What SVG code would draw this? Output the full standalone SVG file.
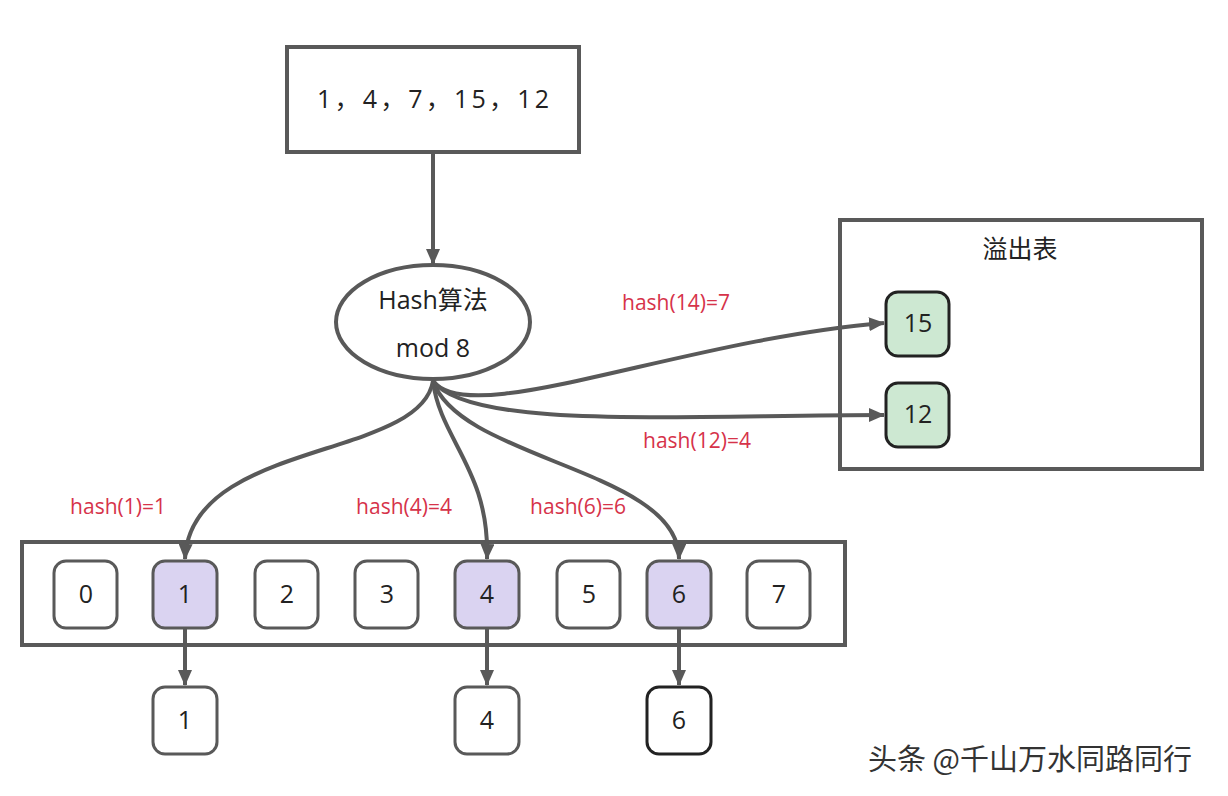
<svg xmlns="http://www.w3.org/2000/svg" width="1228" height="796" viewBox="0 0 1228 796">
<defs>
<marker id="ah" markerWidth="16" markerHeight="14" refX="15" refY="7" orient="auto" markerUnits="userSpaceOnUse"><path d="M0,0 L16,7 L0,14 z" fill="#595959"/></marker>
<style>
.box{fill:#fff;stroke:#595959;stroke-width:4}
.cell{fill:#fff;stroke:#595959;stroke-width:3}
.hl{fill:#dad3f1;stroke:#595959;stroke-width:3}
.gr{fill:#cde8d2;stroke:#222;stroke-width:3}
.t{font-family:"Open Sans","Noto Sans CJK SC",sans-serif;font-size:25px;fill:#222;text-anchor:middle}
.r{font-family:"Open Sans",sans-serif;font-size:21px;fill:#d6334a;text-anchor:middle}
.c{fill:none;stroke:#595959;stroke-width:4;marker-end:url(#ah)}
</style>
</defs>
<rect width="1228" height="796" fill="#fff"/>
<g id="input"><rect class="box" x="287" y="47" width="292" height="105"/><text class="t" x="433" y="108" textLength="232">1，4，7，15，12</text></g>
<g id="hash"><ellipse class="box" cx="433" cy="322" rx="97" ry="57"/><text class="t" x="433" y="309">Hash算法</text><text class="t" x="433" y="357">mod 8</text></g>
<g id="overflow"><rect class="box" x="840" y="220" width="362" height="249"/><text class="t" x="1020" y="258">溢出表</text>
<rect class="gr" x="886" y="292" width="63" height="64" rx="12"/><text class="t" x="918" y="332">15</text>
<rect class="gr" x="886" y="383" width="63" height="64" rx="12"/><text class="t" x="918" y="423">12</text></g>
<g id="array"><rect class="box" x="22" y="542" width="823" height="103"/>
<rect class="cell" x="54" y="561" width="63" height="67" rx="12"/><text class="t" x="86" y="603">0</text>
<rect class="hl" x="153" y="561" width="64" height="67" rx="12"/><text class="t" x="185" y="603">1</text>
<rect class="cell" x="255" y="561" width="63" height="67" rx="12"/><text class="t" x="287" y="603">2</text>
<rect class="cell" x="355" y="561" width="63" height="67" rx="12"/><text class="t" x="387" y="603">3</text>
<rect class="hl" x="455" y="561" width="64" height="67" rx="12"/><text class="t" x="487" y="603">4</text>
<rect class="cell" x="557" y="561" width="63" height="67" rx="12"/><text class="t" x="589" y="603">5</text>
<rect class="hl" x="647" y="561" width="64" height="67" rx="12"/><text class="t" x="679" y="603">6</text>
<rect class="cell" x="747" y="561" width="63" height="67" rx="12"/><text class="t" x="779" y="603">7</text></g>
<g id="chain1"><rect class="cell" x="153" y="687" width="64" height="67" rx="12"/><text class="t" x="185" y="729">1</text></g>
<g id="chain4"><rect class="cell" x="455" y="687" width="64" height="67" rx="12"/><text class="t" x="487" y="729">4</text></g>
<g id="chain6"><rect class="cell" x="647" y="687" width="64" height="67" rx="12" style="stroke:#222"/><text class="t" x="679" y="729">6</text></g>
<g id="connectors">
<path class="c" d="M433,152 V264"/>
<path class="c" d="M433,381 C420,460 190,440 185,559"/>
<path class="c" d="M433,381 C440,440 490,470 487,559"/>
<path class="c" d="M433,381 C460,460 680,470 679,559"/>
<path class="c" d="M433,381 C470,430 680,340 884,323"/>
<path class="c" d="M433,381 C470,430 680,415 884,415"/>
<path class="c" d="M185,628 V685"/>
<path class="c" d="M487,628 V685"/>
<path class="c" d="M679,628 V685"/>
</g>
<g id="labels">
<text class="r" x="676" y="310">hash(14)=7</text>
<text class="r" x="697" y="448">hash(12)=4</text>
<text class="r" x="118" y="514">hash(1)=1</text>
<text class="r" x="404" y="514">hash(4)=4</text>
<text class="r" x="578" y="514">hash(6)=6</text>
</g>
<text x="1030" y="770" style="font-family:'Noto Sans CJK SC',sans-serif;font-size:29px;fill:#333" text-anchor="middle">头条 @千山万水同路同行</text>
</svg>
